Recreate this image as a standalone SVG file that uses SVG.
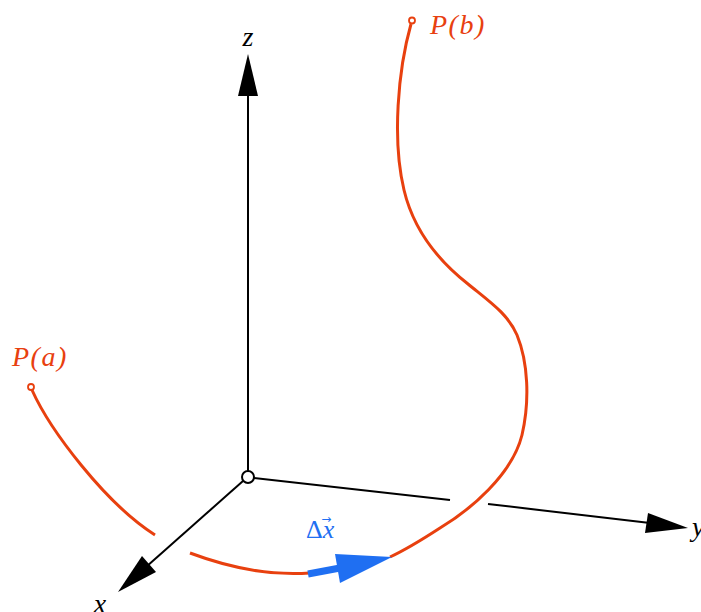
<svg xmlns="http://www.w3.org/2000/svg" width="701" height="612" viewBox="0 0 701 612">
<style>
.ax{stroke:#000;stroke-width:2;fill:none}
.ah{fill:#000;stroke:none}
.cv{stroke:#E8400F;stroke-width:3;fill:none;stroke-linecap:butt}
.lbl{font-family:"Liberation Serif","Times New Roman",serif;font-style:italic;font-size:28px}
.red{fill:#E8400F}
.blue{fill:#1F6FF2}
</style>
<rect width="701" height="612" fill="#fff"/>
<g id="connectors">
  <line class="ax" x1="248" y1="471" x2="248" y2="92"/>
  <polygon class="ah" points="248,54 258,96 238,96"/>
  <line class="ax" x1="254" y1="478" x2="450" y2="500"/>
  <line class="ax" x1="488" y1="504" x2="650" y2="523"/>
  <polygon class="ah" points="688,528 645,533 648,513"/>
  <line class="ax" x1="243" y1="481" x2="146" y2="567"/>
  <polygon class="ah" points="118,592 142,556 156,572"/>
</g>
<g id="origin">
  <circle cx="248" cy="477" r="6" fill="#fff" stroke="#000" stroke-width="2"/>
</g>
<g id="curve">
  <path class="cv" d="M32,390 C50,430 105,503 155,535"/>
  <path class="cv" d="M190,553 C230,568 270,576 310,573"/>
  <path class="cv" d="M390,557 C405,550 420,541 440,528 C470,510 512,475 522,435 C530,400 528,362 517,335 C508,314 490,302 468,284 C440,262 414,232 404,190 C392,140 398,70 411,24"/>
  <circle cx="31" cy="387" r="3" fill="#fff" stroke="#E8400F" stroke-width="1.8"/>
  <circle cx="412" cy="20.5" r="3" fill="#fff" stroke="#E8400F" stroke-width="1.8"/>
</g>
<g id="delta-x">
  <line x1="308" y1="574" x2="340" y2="568" stroke="#1F6FF2" stroke-width="7"/>
  <polygon points="392,557 340,583 335,554" fill="#1F6FF2"/>
</g>
<g id="labels">
  <text class="lbl red" x="12" y="366" letter-spacing="1.5">P(a)</text>
  <text class="lbl red" x="430" y="34" letter-spacing="1.5">P(b)</text>
  <text class="lbl" x="248" y="46" text-anchor="middle">z</text>
  <text class="lbl" x="100" y="613" text-anchor="middle">x</text>
  <text class="lbl" x="692" y="536">y</text>
  <text class="blue" x="306" y="538" font-family="Liberation Serif, serif" font-size="26px">Δ<tspan font-style="italic">x</tspan><tspan dx="-13" dy="-15" font-family="DejaVu Sans, sans-serif" font-size="12px">→</tspan></text>
</g>
</svg>
